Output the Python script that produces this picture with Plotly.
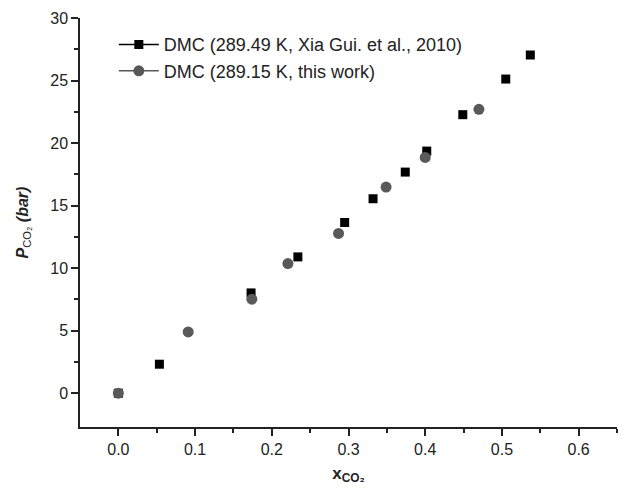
import plotly.graph_objects as go

# Xia Gui et al., 2010 (289.49 K)
x_lit = [0.0, 0.0535, 0.173, 0.234, 0.295, 0.332, 0.374, 0.402, 0.449, 0.505, 0.537]
p_lit = [0.0, 2.32, 8.02, 10.9, 13.65, 15.55, 17.68, 19.36, 22.27, 25.12, 27.04]

# this work (289.15 K)
x_tw = [0.0, 0.091, 0.174, 0.221, 0.287, 0.349, 0.400, 0.470]
p_tw = [0.0, 4.9, 7.52, 10.37, 12.78, 16.48, 18.85, 22.7]

name_lit = "DMC (289.49 K, Xia Gui. et al., 2010)"
name_tw = "DMC (289.15 K, this work)"

# minor tick positions (only inside the labelled span)
x_minor = [0.05, 0.15, 0.25, 0.35, 0.45, 0.55, 0.65]
y_minor = [2.5, 7.5, 12.5, 17.5, 22.5, 27.5]

BLACK = "#000000"
GRAY = "#595959"
FONT = "Liberation Sans, Arial, sans-serif"

fig = go.Figure()
fig.add_trace(go.Scatter(x=x_lit, y=p_lit, mode="markers", showlegend=False,
                         marker=dict(symbol="square", size=9, color=BLACK)))
fig.add_trace(go.Scatter(x=x_tw, y=p_tw, mode="markers", showlegend=False,
                         marker=dict(symbol="circle", size=11, color=GRAY)))
# legend entries (line + marker symbols as in the original)
fig.add_trace(go.Scatter(x=[None], y=[None], mode="lines+markers", name=name_lit,
                         line=dict(color=BLACK, width=1.5),
                         marker=dict(symbol="square", size=9, color=BLACK)))
fig.add_trace(go.Scatter(x=[None], y=[None], mode="lines+markers", name=name_tw,
                         line=dict(color=GRAY, width=1.5),
                         marker=dict(symbol="circle", size=11, color=GRAY)))

axis_common = dict(showline=True, linecolor="#222", linewidth=1.5, mirror=False,
                   showgrid=False, zeroline=False, ticks="outside", ticklen=7,
                   tickwidth=1.5, tickcolor="#222", automargin=False,
                   tickfont=dict(family=FONT, size=16, color="#222"))

fig.update_xaxes(range=[-0.05, 0.65], tick0=0, dtick=0.1, tickformat=".1f",
                 minor=dict(ticks="outside", ticklen=4, tickwidth=1.5, tickcolor="#222",
                            tickmode="array", tickvals=x_minor),
                 title=dict(text="<b>x<sub>CO₂</sub></b>", font=dict(family=FONT, size=17, color="#222"),
                            standoff=10),
                 **axis_common)
fig.update_yaxes(range=[-2.7, 30], tick0=0, dtick=5,
                 minor=dict(ticks="outside", ticklen=4, tickwidth=1.5, tickcolor="#222",
                            tickmode="array", tickvals=y_minor),
                 title=dict(text="<b><i>P</i></b><sub>CO₂</sub><b><i> (bar)</i></b>",
                            font=dict(family=FONT, size=16, color="#222"), standoff=18),
                 **axis_common)

# page body has an 8px margin, so the figure is sized/offset to compensate
fig.update_layout(
    width=634, height=485,
    margin=dict(l=72, r=25, t=10, b=66),
    plot_bgcolor="white", paper_bgcolor="white",
    legend=dict(x=0.063, y=0.98, xanchor="left", yanchor="top", itemwidth=40,
                font=dict(family=FONT, size=18, color="#222"),
                bgcolor="rgba(0,0,0,0)", tracegroupgap=0),
)

fig.write_html("out.html")
